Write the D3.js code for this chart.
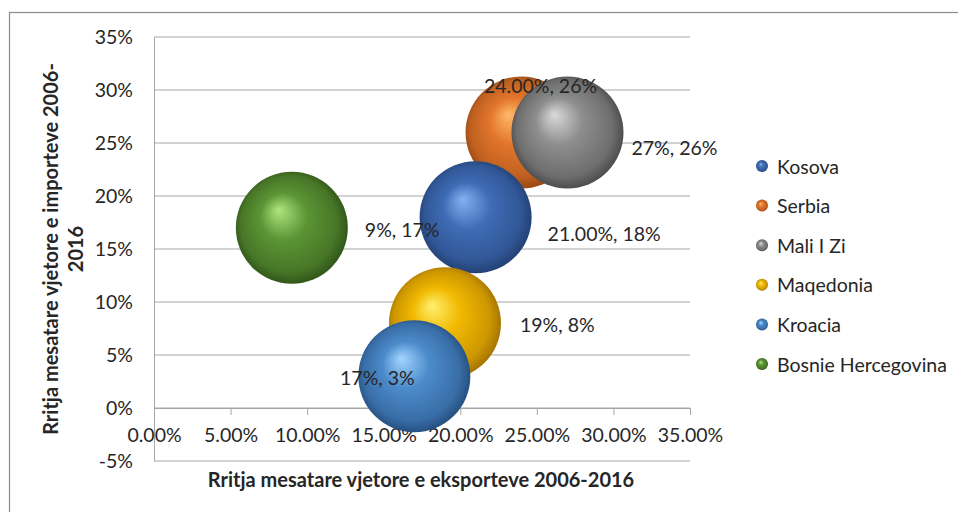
<!DOCTYPE html>
<html>
<head>
<meta charset="utf-8">
<script src="https://cdn.jsdelivr.net/npm/d3@7"></script>
<style>
  body { margin: 0; background: #fff; }
  text { font-family: Lato, "Open Sans", sans-serif; fill: #262626; }
</style>
</head>
<body>
<div id="chart"></div>
<script>
// Chart data
const countries = ['Kosova', 'Serbia', 'Mali I Zi', 'Maqedonia', 'Kroacia', 'Bosnie Hercegovina'];
const exportGrowth = [0.21, 0.24, 0.27, 0.19, 0.17, 0.09];
const importGrowth = [0.18, 0.26, 0.26, 0.08, 0.03, 0.17];
const bubbleSize = [1, 1, 1, 1, 1, 1];
const labels = ['21.00%, 18%', '24.00%, 26%', '27%, 26%', '19%, 8%', '17%, 3%', '9%, 17%'];
const xTicks = [0, 0.05, 0.10, 0.15, 0.20, 0.25, 0.30, 0.35];
const yTicks = [-0.05, 0, 0.05, 0.10, 0.15, 0.20, 0.25, 0.30, 0.35];

// sphere colours: [highlight, base, dark]
const colors = {
  'Kosova': ['#86b0f2', '#3f6cb6', '#1d3766'],
  'Serbia': ['#ffb86a', '#e2762c', '#8a3e0e'],
  'Mali I Zi': ['#dadada', '#8e8e8e', '#3e3e3e'],
  'Maqedonia': ['#fff070', '#f2b900', '#946400'],
  'Kroacia': ['#a2d6ff', '#4c8bcb', '#1d4370'],
  'Bosnie Hercegovina': ['#aee57e', '#5b9535', '#284813']
};

// label placement relative to the bubble centre
const labelLayout = {
  'Kosova': { dx: 72, dy: 16, anchor: 'start' },
  'Serbia': { dx: 19, dy: -47, anchor: 'middle' },
  'Mali I Zi': { dx: 64, dy: 15, anchor: 'start' },
  'Maqedonia': { dx: 75, dy: 1, anchor: 'start' },
  'Kroacia': { dx: -37, dy: 1, anchor: 'middle' },
  'Bosnie Hercegovina': { dx: 73, dy: 2, anchor: 'start' }
};
// drawing order (Serbia sits behind its neighbours)
const drawOrder = ['Serbia', 'Kosova', 'Mali I Zi', 'Maqedonia', 'Kroacia', 'Bosnie Hercegovina'];

const width = 958, height = 512;
const fontSize = '19.5px';

const svg = d3.select('#chart').append('svg')
  .attr('width', width)
  .attr('height', height);

// chart frame
svg.append('rect')
  .attr('x', 9.5).attr('y', 12.5)
  .attr('width', 1000).attr('height', 600)
  .attr('fill', 'none')
  .attr('stroke', '#8c8c8c')
  .attr('stroke-width', 1.2);

const x = d3.scaleLinear().domain([0, 0.35]).range([154, 690]);
const y = d3.scaleLinear().domain([-0.05, 0.35]).range([461, 37]);
const r = d3.scaleSqrt().domain([0, d3.max(bubbleSize)]).range([0, 56]);

const defs = svg.append('defs');
Object.keys(colors).forEach((name, i) => {
  const c = colors[name];
  const g = defs.append('radialGradient')
    .attr('id', 'grad' + i)
    .attr('cx', '50%').attr('cy', '50%').attr('r', '55%')
    .attr('fx', '38%').attr('fy', '34%');
  g.append('stop').attr('offset', '0%').attr('stop-color', c[0]);
  g.append('stop').attr('offset', '38%').attr('stop-color', c[1]);
  g.append('stop').attr('offset', '78%').attr('stop-color', d3.interpolateRgb(c[1], c[2])(0.4));
  g.append('stop').attr('offset', '100%').attr('stop-color', c[2]);
});

// horizontal gridlines
svg.append('g')
  .selectAll('line')
  .data(yTicks)
  .join('line')
  .attr('x1', x(0)).attr('x2', x(0.35))
  .attr('y1', d => y(d)).attr('y2', d => y(d))
  .attr('stroke', '#a6a6a6')
  .attr('stroke-width', 1);

// y axis
const yAxis = svg.append('g')
  .attr('transform', `translate(${x(0)},0)`)
  .call(d3.axisLeft(y).tickValues(yTicks).tickSize(0).tickPadding(21)
    .tickFormat(d => Math.round(d * 100) + '%'));
yAxis.select('.domain').attr('stroke', '#a6a6a6');
yAxis.selectAll('text').style('font-size', fontSize).attr('fill', '#262626')
  .style('font-family', 'Lato, sans-serif');

// x axis on the zero line
const xAxis = svg.append('g')
  .attr('transform', `translate(0,${y(0)})`)
  .call(d3.axisBottom(x).tickValues(xTicks).tickSizeInner(7).tickSizeOuter(0).tickPadding(13)
    .tickFormat(d => (d * 100).toFixed(2) + '%'));
xAxis.select('.domain').attr('stroke', '#a6a6a6');
xAxis.selectAll('line').attr('stroke', '#a6a6a6');
xAxis.selectAll('text').style('font-size', fontSize).attr('fill', '#262626')
  .style('font-family', 'Lato, sans-serif');

// bubbles
const points = countries.map((name, i) => ({
  name, i,
  x: exportGrowth[i], y: importGrowth[i], size: bubbleSize[i], label: labels[i]
}));
const ordered = drawOrder.map(n => points.find(p => p.name === n));

svg.append('g')
  .selectAll('circle')
  .data(ordered)
  .join('circle')
  .attr('cx', d => x(d.x))
  .attr('cy', d => y(d.y))
  .attr('r', d => r(d.size))
  .attr('fill', d => `url(#grad${d.i})`);

// data labels
svg.append('g')
  .selectAll('text')
  .data(ordered)
  .join('text')
  .attr('x', d => x(d.x) + labelLayout[d.name].dx)
  .attr('y', d => y(d.y) + labelLayout[d.name].dy)
  .attr('text-anchor', d => labelLayout[d.name].anchor)
  .attr('dominant-baseline', 'central')
  .style('font-size', fontSize)
  .text(d => d.label);

// axis titles
svg.append('text')
  .attr('x', 421).attr('y', 487)
  .attr('text-anchor', 'middle')
  .style('font-size', '20px')
  .style('font-weight', 'bold')
  .attr('fill', '#000')
  .text('Rritja mesatare vjetore e eksporteve 2006-2016');

const yTitle = svg.append('text')
  .attr('transform', 'translate(0,249) rotate(-90)')
  .attr('text-anchor', 'middle')
  .style('font-size', '20px')
  .style('font-weight', 'bold')
  .attr('fill', '#000');
yTitle.append('tspan').attr('x', 0).attr('y', 58).text('Rritja mesatare vjetore e importeve 2006-');
yTitle.append('tspan').attr('x', 0).attr('y', 83).text('2016');

// legend
const legend = svg.append('g')
  .selectAll('g')
  .data(points)
  .join('g')
  .attr('transform', (d, i) => `translate(762,${166 + i * 39.6})`);
legend.append('circle')
  .attr('r', 6)
  .attr('fill', d => `url(#grad${d.i})`);
legend.append('text')
  .attr('x', 15)
  .attr('dominant-baseline', 'central')
  .style('font-size', fontSize)
  .text(d => d.name);
</script>
</body>
</html>
